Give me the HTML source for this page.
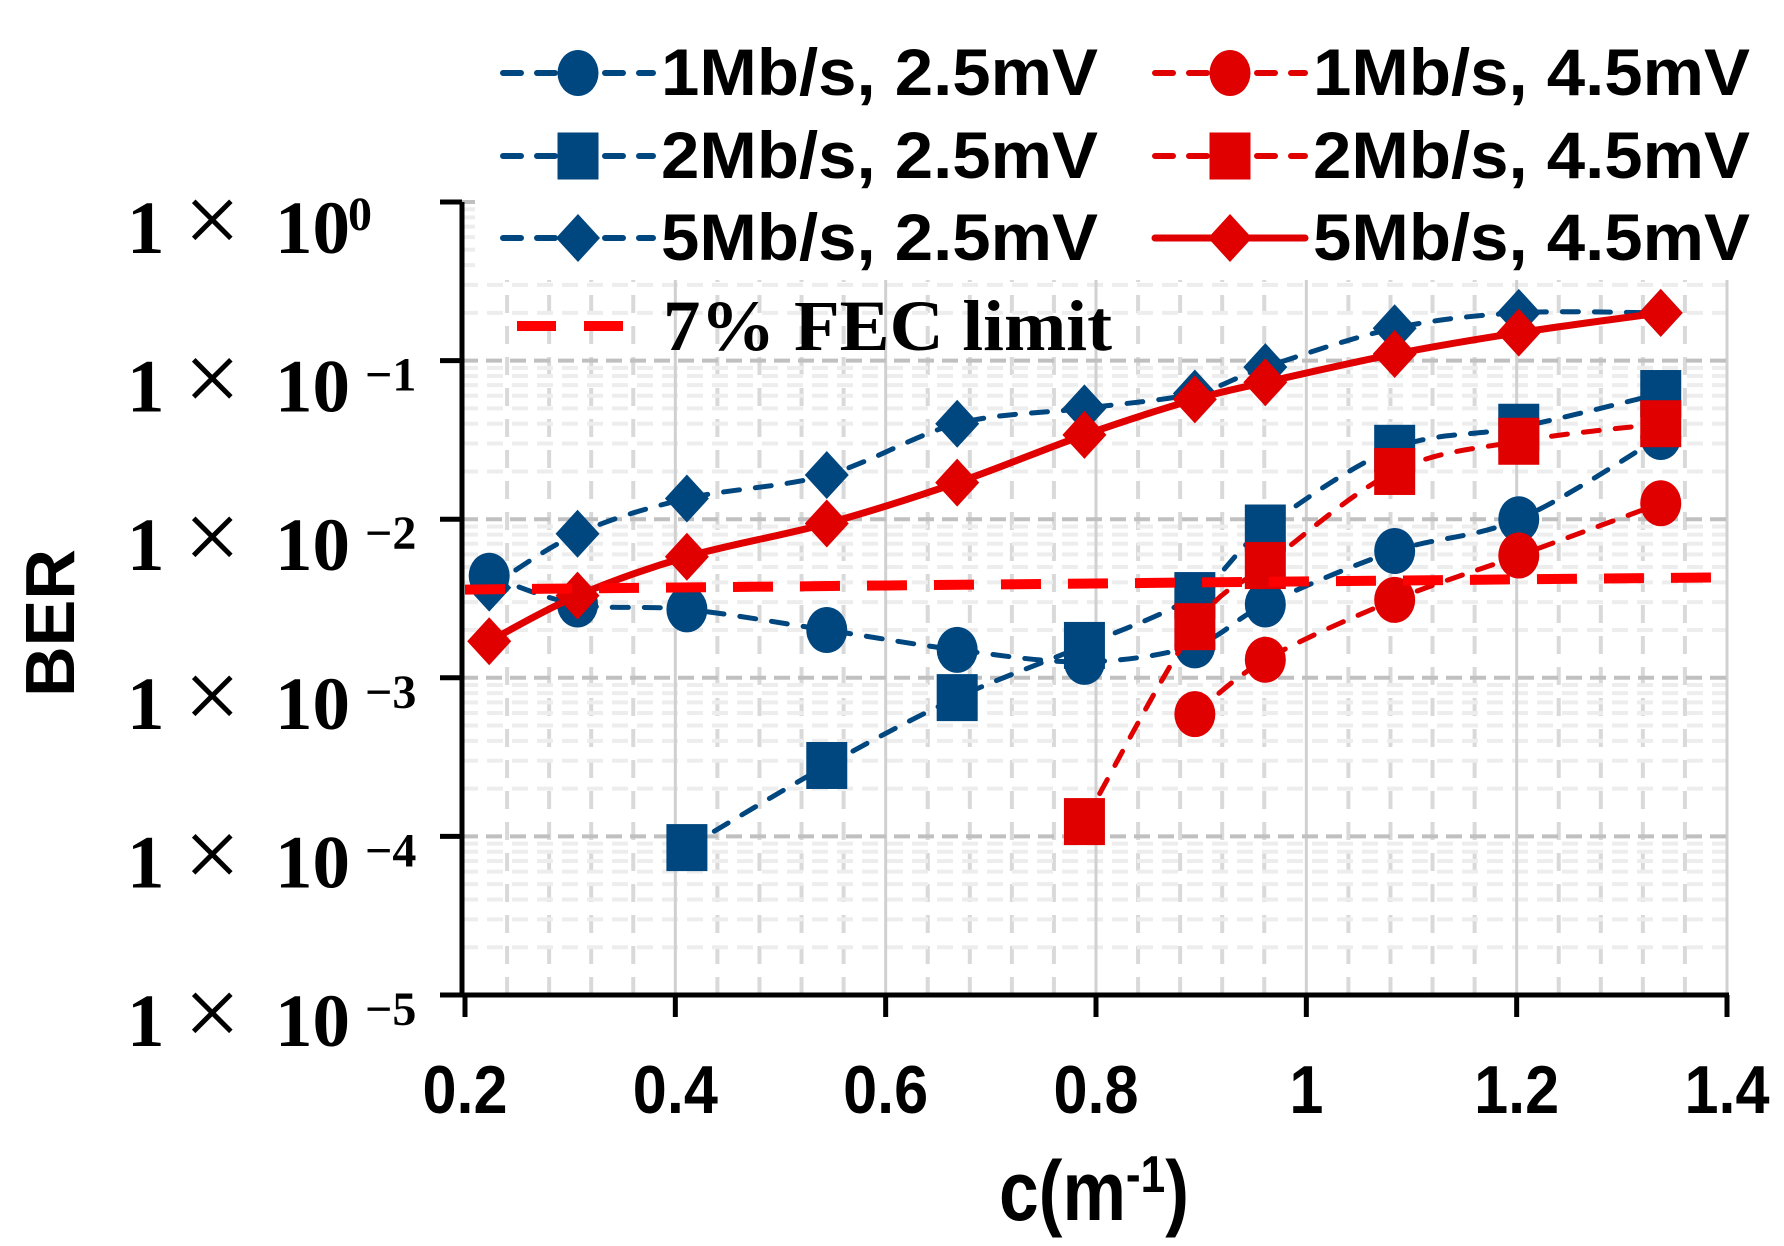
<!DOCTYPE html>
<html><head><meta charset="utf-8"><style>
html,body{margin:0;padding:0;background:#fff;}
svg{display:block;}
</style></head><body>
<svg id="chart" xmlns="http://www.w3.org/2000/svg" width="1784" height="1246" viewBox="0 0 1784 1246">
<g id="grid"></g>
<g id="series"></g>
<g id="legend"></g>
<g id="axes"></g>
</svg>
<script>
const xCats = [0.223,0.307,0.411,0.544,0.668,0.789,0.894,0.961,1.084,1.202,1.337];
const s1Mb25 = [4.4e-3,2.9e-3,2.7e-3,2.0e-3,1.5e-3,1.26e-3,1.6e-3,2.9e-3,6.3e-3,1.0e-2,3.3e-2];
const x2Mb25 = [0.411,0.544,0.668,0.789,0.894,0.961,1.084,1.202,1.337];
const s2Mb25 = [8.5e-5,2.8e-4,7.5e-4,1.6e-3,3.3e-3,8.8e-3,2.8e-2,3.8e-2,6.2e-2];
const s5Mb25 = [3.7e-3,8.1e-3,1.35e-2,1.9e-2,4.0e-2,5.0e-2,6.2e-2,9.1e-2,0.16,0.2,0.2];
const x1Mb45 = [0.894,0.961,1.084,1.202,1.337];
const s1Mb45 = [5.9e-4,1.3e-3,3.1e-3,5.9e-3,1.26e-2];
const x2Mb45 = [0.789,0.894,0.961,1.084,1.202,1.337];
const s2Mb45 = [1.24e-4,2.1e-3,5.1e-3,2.0e-2,3.1e-2,4.0e-2];
const s5Mb45 = [1.7e-3,3.3e-3,5.8e-3,9.4e-3,1.7e-2,3.4e-2,5.7e-2,7.3e-2,0.11,0.15,0.2];
const fecX = [0.2,1.4];
const fecY = [3.6e-3,4.3e-3];
const xTicks = [0.2,0.4,0.6,0.8,1,1.2,1.4];
const xTickLabels = ["0.2","0.4","0.6","0.8","1","1.2","1.4"];
const yDecades = [0,-1,-2,-3,-4,-5];
const yExpLabels = ["0","\u22121","\u22122","\u22123","\u22124","\u22125"];

const NS="http://www.w3.org/2000/svg";
const X0=465,X1=1727,Y0=202,Y5=995;
const xs=v=>X0+(v-0.2)/1.2*(X1-X0);
const ys=v=>Y0+(-Math.log10(v))/5*(Y5-Y0);
function mk(tag,attrs,parent){const e=document.createElementNS(NS,tag);for(const k in attrs)e.setAttribute(k,attrs[k]);parent.appendChild(e);return e;}
const BLUE="#00467f",RED="#e00000";
const grid=document.getElementById('grid'),ser=document.getElementById('series'),leg=document.getElementById('legend'),axes=document.getElementById('axes');

for(let v=0.24;v<1.4;v+=0.04){
  if(Math.abs((v*5)-Math.round(v*5))<1e-6) continue;
  const l=mk('line',{x1:xs(v),x2:xs(v),y1:Y0,y2:Y5,stroke:'#d9d9d9','stroke-width':4,'stroke-dasharray':'18 13'},grid);
  
  
}
for(let d=-5;d<0;d++){for(let m=2;m<=9;m++){
  const y=ys(m*Math.pow(10,d));
  const l=mk('line',{x1:462,x2:X1,y1:y,y2:y,stroke:'#ededed','stroke-width':4,'stroke-dasharray':'16 9'},grid);
  
  
}}
xTicks.forEach(v=>{if(v===0.2)return;
  const l=mk('line',{x1:xs(v),x2:xs(v),y1:Y0,y2:Y5,stroke:'#d0d0d0','stroke-width':3},grid);
  
  
});
yDecades.forEach(d=>{if(d===-5)return;const y=ys(Math.pow(10,d));
  const l=mk('line',{x1:462,x2:X1,y1:y,y2:y,stroke:'#c0c0c0','stroke-width':4,'stroke-dasharray':'16 8'},grid);
  
  
});

function smooth(xa,ya){
  const p=xa.map((x,i)=>[xs(x),ys(ya[i])]);
  let d=`M${p[0][0]},${p[0][1]}`;
  for(let i=0;i<p.length-1;i++){
    const p0=p[i-1]||p[i],p1=p[i],p2=p[i+1],p3=p[i+2]||p[i+1];
    const c1=[p1[0]+(p2[0]-p0[0])/6,p1[1]+(p2[1]-p0[1])/6];
    const c2=[p2[0]-(p3[0]-p1[0])/6,p2[1]-(p3[1]-p1[1])/6];
    d+=` C${c1[0]},${c1[1]} ${c2[0]},${c2[1]} ${p2[0]},${p2[1]}`;
  }
  return d;
}
function marker(shape,cx,cy,color,parent,name){
  let e;
  if(shape==='circle') e=mk('ellipse',{cx,cy,rx:20.5,ry:23,fill:color},parent);
  else if(shape==='square') e=mk('rect',{x:cx-20.5,y:cy-23.5,width:41,height:47,fill:color},parent);
  else e=mk('polygon',{points:`${cx},${cy-24} ${cx+22},${cy} ${cx},${cy+24} ${cx-22},${cy}`,fill:color},parent);
  
  
}
function series(xa,ya,color,shape,dash,w,name){
  const g=mk('g',{},ser);
  
  
  const p=mk('path',{d:smooth(xa,ya),fill:'none',stroke:color,'stroke-width':w,'stroke-dasharray':dash||'none','stroke-linecap':'round'},g);
  
  
  xa.forEach((x,i)=>marker(shape,xs(x),ys(ya[i]),color,g,name+'-point'));
}
series(xCats,s5Mb25,BLUE,'diamond','16 16',5,'series-5mbs-2.5mv');
series(xCats,s1Mb25,BLUE,'circle','16 16',5,'series-1mbs-2.5mv');
series(x2Mb25,s2Mb25,BLUE,'square','16 16',5,'series-2mbs-2.5mv');
series(x1Mb45,s1Mb45,RED,'circle','16 16',5,'series-1mbs-4.5mv');
series(x2Mb45,s2Mb45,RED,'square','16 16',5,'series-2mbs-4.5mv');
series(xCats,s5Mb45,RED,'diamond',null,7,'series-5mbs-4.5mv');
const fec=mk('line',{x1:xs(fecX[0]),x2:xs(fecX[1]),y1:ys(fecY[0]),y2:ys(fecY[1]),stroke:'#ff0000','stroke-width':10,'stroke-dasharray':'40 27'},ser);



const bg=mk('rect',{x:475,y:0,width:1309,height:280,fill:'#fff'},leg);


const entries=[
 [503,73,BLUE,'circle','1Mb/s, 2.5mV','18 16',6],
 [503,156,BLUE,'square','2Mb/s, 2.5mV','18 16',6],
 [503,238,BLUE,'diamond','5Mb/s, 2.5mV','18 16',6],
 [1155,73,RED,'circle','1Mb/s, 4.5mV','18 16',6],
 [1155,156,RED,'square','2Mb/s, 4.5mV','18 16',6],
 [1155,238,RED,'diamond','5Mb/s, 4.5mV',null,7]];
entries.forEach(e=>{
  const g=mk('g',{},leg);
  
  
  mk('line',{x1:e[0],x2:e[0]+150,y1:e[1],y2:e[1],stroke:e[2],'stroke-width':e[6],'stroke-dasharray':e[5]||'none','stroke-linecap':'round'},g);
  marker(e[3],e[0]+75,e[1],e[2],g,'legend-marker');
  const t=mk('text',{x:e[0]+158,y:e[1]+22,'font-family':'Liberation Sans, sans-serif','font-weight':'bold','font-size':66,textLength:437,lengthAdjust:'spacingAndGlyphs',fill:'#000'},g);
  t.textContent=e[4];
  
  
});
const fg=mk('g',{},leg);


mk('line',{x1:517,x2:623,y1:326,y2:326,stroke:'#ff0000','stroke-width':10,'stroke-dasharray':'39 28'},fg);
const ft=mk('text',{x:663,y:350,'font-family':'Liberation Serif, serif','font-weight':'bold','font-size':72,textLength:449,lengthAdjust:'spacingAndGlyphs',fill:'#000'},fg);
ft.textContent='7% FEC limit';



const ya=mk('line',{x1:462,x2:462,y1:Y0,y2:Y5+2,stroke:'#000','stroke-width':5},axes);


const xa=mk('line',{x1:460,x2:X1+2,y1:Y5,y2:Y5,stroke:'#000','stroke-width':5},axes);


yDecades.forEach((d,i)=>{
  const y=ys(Math.pow(10,d));
  mk('line',{x1:440,x2:462,y1:y,y2:y,stroke:'#000','stroke-width':5},axes);
  const t=mk('text',{x:127,y:y+51,'font-family':'Liberation Serif, serif','font-weight':'bold','font-size':75,fill:'#000'},axes);
  
  
  const a=mk('tspan',{x:127},t);a.textContent='1';
  const b=mk('tspan',{x:184,'font-weight':'normal','font-size':100},t);b.textContent='\u00d7';
  const c=mk('tspan',{x:275},t);c.textContent='10';
  const e=mk('tspan',{x:d===0?348:365,dy:d===0?-23:-21,'font-size':48},t);e.textContent=yExpLabels[i];
});
xTicks.forEach((v,i)=>{
  const x=xs(v);
  mk('line',{x1:x,x2:x,y1:Y5,y2:Y5+22,stroke:'#000','stroke-width':5},axes);
  const t=mk('text',{x:x,y:1113,'text-anchor':'middle','font-family':'Liberation Sans, sans-serif','font-weight':'bold','font-size':68,fill:'#000',transform:`translate(${x},0) scale(0.9,1) translate(${-x},0)`},axes);
  t.textContent=xTickLabels[i];
  
  
});
const xt=mk('text',{x:1094,y:1220,'text-anchor':'middle','font-family':'Liberation Sans, sans-serif','font-weight':'bold','font-size':84,fill:'#000',transform:'translate(1094,0) scale(0.85,1) translate(-1094,0)'},axes);


const t1=mk('tspan',{},xt);t1.textContent='c(m';
const t2=mk('tspan',{dy:-28,'font-size':52},xt);t2.textContent='-1';
const t3=mk('tspan',{dy:28},xt);t3.textContent=')';
const yt=mk('text',{x:0,y:0,'text-anchor':'middle','font-family':'Liberation Sans, sans-serif','font-weight':'bold','font-size':70,fill:'#000',transform:'translate(74,623) rotate(-90)'},axes);
yt.textContent='BER';


</script>
</body></html>
